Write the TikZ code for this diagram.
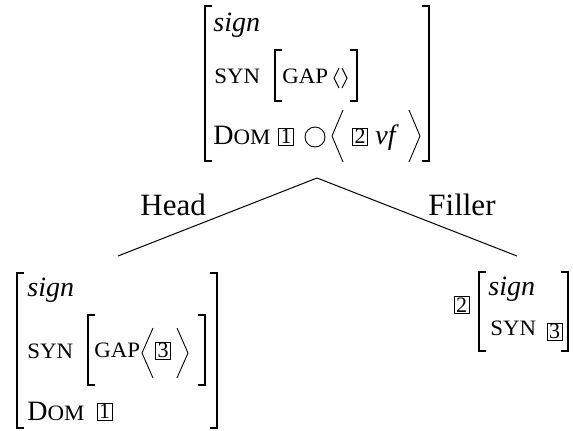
\documentclass[tikz,border=0pt]{standalone}
\usepackage{fontspec}
\setmainfont{Liberation Serif}
\newfontfamily\scfont[FakeStretch=1.04]{Liberation Serif}
\newcommand{\avmf}{\fontsize{14}{16}\selectfont}
\newcommand{\smcap}[1]{{\scfont\fontsize{11}{12}\selectfont #1}}
\newcommand{\tagf}{\fontsize{11}{12}\selectfont}
\newcommand{\lblf}{\fontsize{15.5}{18}\selectfont}

\begin{document}
\begin{tikzpicture}[x=0.5pt,y=-0.5pt,
  txt/.style={anchor=base west,inner sep=0pt,font=\avmf},
  tag/.style={draw,line width=0.4pt,inner sep=0pt,minimum width=7.5pt,minimum height=8.5pt,font=\tagf},
  brk/.style={line width=0.9pt},
  ang/.style={line width=0.45pt}]
\useasboundingbox (0,0) rectangle (573,430);

% square brackets: x/top/bottom/side
\foreach \x/\t/\b/\d in {205/6/161/1, 429/6/161/-1, 275/50/101/1, 357/50/101/-1,
  17/273/428/1, 217/273/428/-1, 88/315/385/1, 205/315/385/-1, 479/272/351/1, 568/272/351/-1}{
\draw[brk] ({\x+7*\d},\t)--(\x,\t)--(\x,\b)--({\x+7*\d},\b);
}
% angle brackets: x/width/top/bottom/side
\foreach \x/\w/\t/\b/\d in {332/11/110/162/1, 420/11/110/162/-1, 142/11/328/378/1,
  188/11/328/378/-1, 334/5/68/88/1, 347/5/68/88/-1}{
\draw[ang] ({\x+\w*\d},\t)--(\x,{(\t+\b)/2})--({\x+\w*\d},\b);
}

% mother
\node[txt,font=\avmf\itshape] (sgnM) at (213,31) {sign};
\node[txt] (synM) at (214,83) {\smcap{SYN}};
\node[txt] (gapM) at (282,83) {\smcap{GAP}};
\node[txt] (domM) at (213,144) {D\smcap{OM}};
\node[tag] (oneM) at (286,136.5) {1};
\draw[ang] (315,137) circle [radius=5pt];
\node[tag] (twoM) at (360,136.5) {2};
\node[txt,font=\avmf\itshape] (vfM) at (375,144) {vf};

% branches
\coordinate (root) at (317,178);
\coordinate (hd) at (118,256);
\coordinate (fl) at (517,256);
\draw[line width=0.5pt] (root)--(hd);
\draw[line width=0.5pt] (root)--(fl);
\node[txt,font=\lblf] (head) at (140,215) {Head};
\node[txt,font=\lblf] (filler) at (428,215) {Filler};

% head daughter
\node[txt,font=\avmf\itshape] (sgnH) at (27,296) {sign};
\node[txt] (synH) at (27,358) {\smcap{SYN}};
\node[txt] (gapH) at (94,357) {\smcap{GAP}};
\node[tag] (thrH) at (163,350.5) {3};
\node[txt] (domH) at (27,420) {D\smcap{OM}};
\node[tag] (oneH) at (104.5,411.5) {1};

% filler daughter
\node[tag] (twoF) at (461.5,305) {2};
\node[txt,font=\avmf\itshape] (sgnF) at (488,295) {sign};
\node[txt] (synF) at (490,335) {\smcap{SYN}};
\node[tag] (thrF) at (554.5,331.5) {3};
\end{tikzpicture}
\end{document}
